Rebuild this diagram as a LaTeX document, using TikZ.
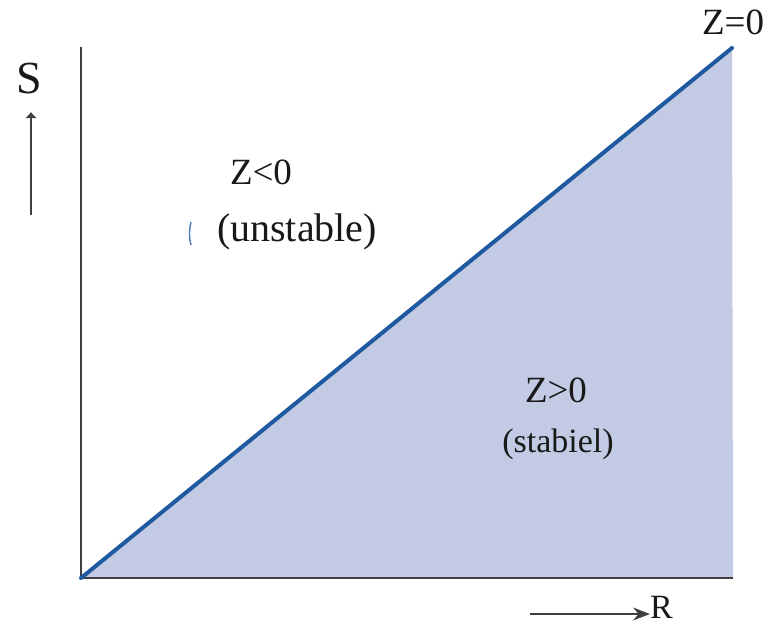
\documentclass[tikz,border=0pt]{standalone}
\usepackage{fontspec}
\setmainfont{Liberation Serif}
\usetikzlibrary{arrows.meta,positioning}
\definecolor{stableFill}{RGB}{194,202,228}
\definecolor{limitBlue}{RGB}{31,90,160}
\definecolor{axisGray}{RGB}{64,64,64}

\begin{document}
\begin{tikzpicture}[
  x=1pt, y=-1pt,
  every node/.style={inner sep=0pt, text=black!90},
  zlabel/.style={font=\fontsize{37}{40}\selectfont},
  regionlabel/.style={font=\fontsize{34}{38}\selectfont},
  axislabel/.style={font=\fontsize{46}{50}\selectfont},
  axisline/.style={draw=axisGray, line width=2.4pt},
  hintarrow/.style={draw=axisGray, line width=1.8pt},
]
\useasboundingbox (0,0) rectangle (776,627);

% Corners
\coordinate (orig) at (81,578);
\coordinate (ytop) at (81,47);
\coordinate (lim) at (732,48);
\coordinate (xend) at (733,578);

% Stable region
\fill[stableFill] (orig) -- (lim) -- (xend) -- cycle;

% Axes
\draw[axisline] (ytop) -- (orig) -- (xend);

% Limit state line
\draw[limitBlue, line width=4pt, line cap=round] (orig) -- (lim);

% Labels
\node[zlabel] (zzero) at (733,22) {Z=0};
\node[zlabel] (zneg) at (261,172) {Z<0};
\node[font=\fontsize{40}{44}\selectfont] (unstable) at (297,232) {(unstable)};
\node[zlabel] (zpos) at (556,390) {Z>0};
\node[regionlabel] (stabiel) at (558,444) {(stabiel)};

% Stray mark
\draw[limitBlue!80, line width=1.4pt] (191,222) .. controls (189,230) and (189,238) .. (191,245);

% Axis hints
\node[axislabel] (slab) at (29,78) {S};
\coordinate (sfoot) at (31,215);
\coordinate (shead) at (31,112);
\draw[hintarrow, -{Latex[length=6pt,width=12pt]}] (sfoot) -- (shead);

\node[font=\fontsize{34}{36}\selectfont, anchor=west] (rlab) at (650,607) {R};
\coordinate (rfoot) at (530,614);
\draw[hintarrow, -{Stealth[length=17pt,width=13pt]}] (rfoot) -- (rfoot -| rlab.west);

\end{tikzpicture}
\end{document}
